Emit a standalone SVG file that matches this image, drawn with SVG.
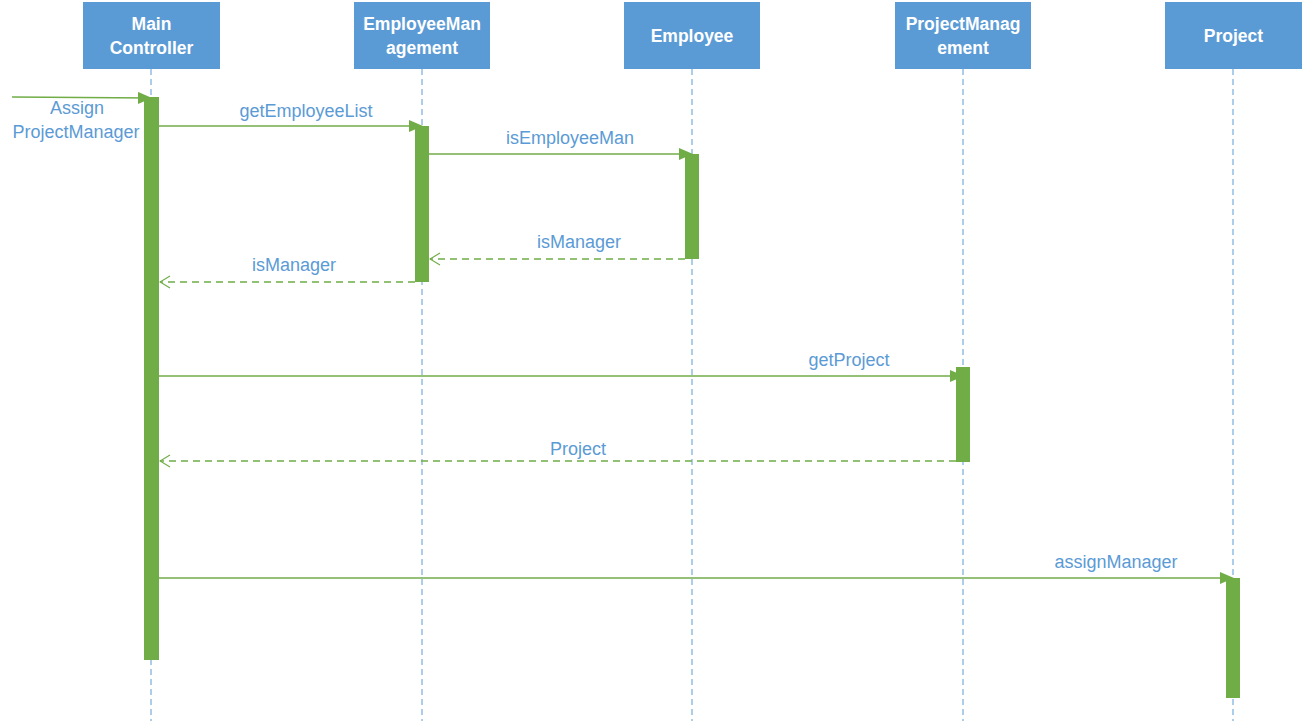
<svg xmlns="http://www.w3.org/2000/svg" width="1304" height="721" viewBox="0 0 1304 721">
<style>
.hdr{fill:#5B9BD5}
.ht{fill:#fff;font-family:"Liberation Sans",Arial,sans-serif;font-weight:bold;font-size:17.5px;text-anchor:middle}
.life{stroke:#5B9BD5;stroke-width:1;stroke-dasharray:6,4;fill:none}
.act{fill:#70AD47}
.msg{stroke:#70AD47;stroke-width:1.3;fill:none}
.ret{stroke:#70AD47;stroke-width:1.3;fill:none;stroke-dasharray:7,5}
.lbl{fill:#5B9BD5;font-family:"Liberation Sans",Arial,sans-serif;font-size:18px;text-anchor:middle}
</style>
<defs>
<marker id="fill" markerWidth="14" markerHeight="12" refX="12" refY="6" orient="auto" markerUnits="userSpaceOnUse">
<path d="M0,0 L14,6 L0,12 Z" fill="#70AD47"/>
</marker>
<marker id="open" markerWidth="12" markerHeight="14" refX="11" refY="7" orient="auto" markerUnits="userSpaceOnUse">
<path d="M1,1 L11,7 L1,13" fill="none" stroke="#70AD47" stroke-width="1.2"/>
</marker>
</defs>
<rect width="1304" height="721" fill="#fff"/>
<g id="lifelines">
<line class="life" x1="151" y1="69" x2="151" y2="721"/>
<line class="life" x1="422" y1="69" x2="422" y2="721"/>
<line class="life" x1="692" y1="69" x2="692" y2="721"/>
<line class="life" x1="963" y1="69" x2="963" y2="721"/>
<line class="life" x1="1233" y1="69" x2="1233" y2="721"/>
</g>
<g id="main-controller">
<rect class="hdr" x="83" y="2" width="137" height="67"/>
<text class="ht" x="151.5" y="30">Main</text>
<text class="ht" x="151.5" y="54">Controller</text>
<rect class="act" x="144" y="97" width="15" height="563"/>
</g>
<g id="employee-management">
<rect class="hdr" x="354" y="2" width="136" height="67"/>
<text class="ht" x="422" y="30">EmployeeMan</text>
<text class="ht" x="422" y="54">agement</text>
<rect class="act" x="415" y="126" width="14" height="156"/>
</g>
<g id="employee">
<rect class="hdr" x="624" y="2" width="136" height="67"/>
<text class="ht" x="692" y="42">Employee</text>
<rect class="act" x="685" y="154" width="14" height="105"/>
</g>
<g id="project-management">
<rect class="hdr" x="895" y="2" width="136" height="67"/>
<text class="ht" x="963" y="30">ProjectManag</text>
<text class="ht" x="963" y="54">ement</text>
<rect class="act" x="956" y="367" width="14" height="95"/>
</g>
<g id="project">
<rect class="hdr" x="1165" y="2" width="137" height="67"/>
<text class="ht" x="1233.5" y="42">Project</text>
<rect class="act" x="1226" y="578" width="14" height="120"/>
</g>
<g id="connectors">
<path class="msg" d="M12,97 L150,98" marker-end="url(#fill)"/>
<line class="msg" x1="159" y1="126" x2="421" y2="126" marker-end="url(#fill)"/>
<line class="msg" x1="429" y1="154" x2="691" y2="154" marker-end="url(#fill)"/>
<line class="ret" x1="685" y1="259" x2="430" y2="259" marker-end="url(#open)"/>
<line class="ret" x1="415" y1="282" x2="160" y2="282" marker-end="url(#open)"/>
<line class="msg" x1="159" y1="376" x2="962" y2="376" marker-end="url(#fill)"/>
<line class="ret" x1="956" y1="461" x2="160" y2="461" marker-end="url(#open)"/>
<line class="msg" x1="159" y1="578" x2="1232" y2="578" marker-end="url(#fill)"/>
</g>
<g id="labels">
<text class="lbl" x="77" y="114">Assign</text>
<text class="lbl" x="76" y="138">ProjectManager</text>
<text class="lbl" x="306" y="117">getEmployeeList</text>
<text class="lbl" x="570" y="144">isEmployeeMan</text>
<text class="lbl" x="579" y="248">isManager</text>
<text class="lbl" x="294" y="271">isManager</text>
<text class="lbl" x="849" y="366">getProject</text>
<text class="lbl" x="578" y="455">Project</text>
<text class="lbl" x="1116" y="568">assignManager</text>
</g>
</svg>
